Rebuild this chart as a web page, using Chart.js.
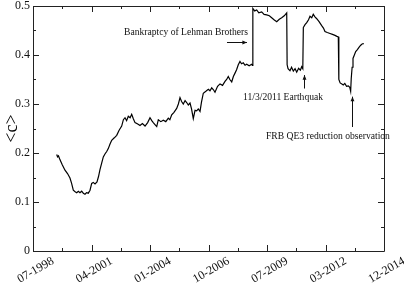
<!DOCTYPE html>
<html>
<head>
<meta charset="utf-8">
<script src="https://cdn.jsdelivr.net/npm/chart.js@4.4.1/dist/chart.umd.min.js"></script>
<style>
  html, body { margin: 0; padding: 0; background: #fff; }
  canvas { display: block; }
</style>
</head>
<body>
<canvas id="c-chart" width="404" height="284"></canvas>
<script>
// days counted from 07-1998
const days = [405, 420, 436, 462, 500, 547, 590, 632, 660, 689, 720, 747, 775, 803, 832, 860, 889, 915, 945, 975,
  1003, 1030, 1060, 1094, 1120, 1145, 1175, 1202, 1230, 1260, 1287, 1315, 1345, 1390, 1431, 1470, 1516, 1545, 1573, 1600,
  1629, 1660, 1687, 1715, 1744, 1790, 1829, 1870, 1915, 1960, 2000, 2030, 2056, 2085, 2115, 2142, 2185, 2227, 2270, 2313,
  2340, 2371, 2410, 2456, 2485, 2513, 2540, 2569, 2600, 2627, 2655, 2684, 2710, 2740, 2770, 2798, 2825, 2855, 2880, 2911,
  2955, 2997, 3025, 3055, 3085, 3111, 3155, 3197, 3240, 3282, 3310, 3338, 3365, 3397, 3425, 3453, 3480, 3509, 3538, 3565,
  3595, 3625, 3653, 3695, 3738, 3752, 3758, 3790, 3824, 3860, 3909, 3950, 3995, 4040, 4080, 4120, 4166, 4210, 4251, 4295,
  4337, 4344, 4360, 4393, 4420, 4450, 4480, 4508, 4540, 4570, 4593, 4612, 4621, 4650, 4679, 4710, 4735, 4765, 4791, 4820,
  4850, 4890, 4935, 4965, 4991, 5030, 5077, 5120, 5162, 5195, 5219, 5228, 5250, 5280, 5304, 5330, 5360, 5390, 5415, 5430,
  5440, 5455, 5470, 5490, 5516, 5545, 5575, 5602, 5630, 5658];

const meanC = [0.197, 0.192, 0.194, 0.186, 0.176, 0.165, 0.158, 0.149, 0.138, 0.124, 0.121, 0.119, 0.122, 0.119, 0.122, 0.118, 0.116, 0.119, 0.118, 0.124,
  0.138, 0.140, 0.137, 0.141, 0.152, 0.166, 0.180, 0.192, 0.198, 0.203, 0.209, 0.218, 0.226, 0.231, 0.236, 0.246, 0.255, 0.268, 0.272, 0.266,
  0.275, 0.272, 0.279, 0.270, 0.262, 0.259, 0.256, 0.260, 0.255, 0.262, 0.272, 0.266, 0.262, 0.258, 0.254, 0.268, 0.264, 0.267, 0.264, 0.271,
  0.268, 0.278, 0.283, 0.291, 0.300, 0.313, 0.305, 0.300, 0.307, 0.303, 0.298, 0.302, 0.290, 0.270, 0.287, 0.286, 0.290, 0.285, 0.304, 0.322,
  0.326, 0.330, 0.327, 0.333, 0.329, 0.324, 0.336, 0.341, 0.338, 0.346, 0.350, 0.356, 0.350, 0.345, 0.356, 0.363, 0.370, 0.380, 0.387, 0.382,
  0.384, 0.379, 0.381, 0.378, 0.381, 0.379, 0.495, 0.490, 0.492, 0.486, 0.488, 0.483, 0.482, 0.480, 0.476, 0.472, 0.468, 0.473, 0.476, 0.480,
  0.486, 0.380, 0.372, 0.368, 0.375, 0.367, 0.372, 0.365, 0.373, 0.369, 0.376, 0.372, 0.456, 0.462, 0.466, 0.472, 0.479, 0.476, 0.483, 0.478,
  0.474, 0.468, 0.460, 0.455, 0.448, 0.446, 0.444, 0.442, 0.440, 0.438, 0.437, 0.350, 0.343, 0.341, 0.339, 0.342, 0.336, 0.337, 0.334, 0.326,
  0.352, 0.375, 0.393, 0.399, 0.407, 0.411, 0.416, 0.420, 0.423, 0.423];

const xTickLabels = ['07-1998', '04-2001', '01-2004', '10-2006', '07-2009', '03-2012', '12-2014'];
const yTicks = [0, 0.1, 0.2, 0.3, 0.4, 0.5];

const notes = ['Bankraptcy of Lehman Brothers', '11/3/2011 Earthquak', 'FRB QE3 reduction observation'];

const serif = "'Liberation Serif', 'DejaVu Serif', serif";

// frame with inward ticks on all four sides, plus the annotations
const frameAndNotes = {
  id: 'frameAndNotes',
  afterDraw(chart) {
    const { ctx, chartArea: a, scales: { x, y } } = chart;
    ctx.save();
    ctx.strokeStyle = '#222';
    ctx.lineWidth = 1;
    ctx.beginPath();
    ctx.rect(Math.round(a.left) + 0.5, Math.round(a.top) + 0.5, Math.round(a.width), Math.round(a.height));
    ctx.stroke();

    const seg = (x1, y1, x2, y2) => { ctx.moveTo(x1, y1); ctx.lineTo(x2, y2); };
    ctx.beginPath();
    for (let d = 0; d <= 6000; d += 500) {
      const px = Math.round(x.getPixelForValue(d)) + 0.5;
      const len = d % 1000 === 0 ? 6 : 3;
      seg(px, a.bottom, px, a.bottom - len);
      seg(px, a.top, px, a.top + len);
    }
    for (let i = 0; i <= 10; i++) {
      const py = Math.round(y.getPixelForValue(i * 0.05)) + 0.5;
      const len = i % 2 === 0 ? 6 : 3;
      seg(a.left, py, a.left + len, py);
      seg(a.right, py, a.right - len, py);
    }
    ctx.stroke();

    // annotations
    ctx.fillStyle = '#111';
    ctx.font = '9.6px ' + serif;
    ctx.textBaseline = 'alphabetic';
    ctx.textAlign = 'right';
    ctx.fillText(notes[0], x.getPixelForValue(3675), y.getPixelForValue(0.4408));
    ctx.textAlign = 'left';
    ctx.fillText(notes[1], x.getPixelForValue(3590), y.getPixelForValue(0.309));
    ctx.fillText(notes[2], x.getPixelForValue(3983), y.getPixelForValue(0.2276));

    const arrow = (x1, y1, x2, y2) => {
      const ang = Math.atan2(y2 - y1, x2 - x1);
      ctx.beginPath();
      ctx.moveTo(x1, y1);
      ctx.lineTo(x2, y2);
      ctx.stroke();
      ctx.beginPath();
      ctx.moveTo(x2, y2);
      ctx.lineTo(x2 - 5 * Math.cos(ang - 0.4), y2 - 5 * Math.sin(ang - 0.4));
      ctx.lineTo(x2 - 5 * Math.cos(ang + 0.4), y2 - 5 * Math.sin(ang + 0.4));
      ctx.closePath();
      ctx.fill();
    };
    ctx.strokeStyle = '#111';
    const ly = Math.round(y.getPixelForValue(0.4265)) + 0.5;
    arrow(x.getPixelForValue(3316), ly, x.getPixelForValue(3658), ly);
    const ex = Math.round(x.getPixelForValue(4632)) + 0.5;
    arrow(ex, y.getPixelForValue(0.3316), ex, y.getPixelForValue(0.359));
    const fx = Math.round(x.getPixelForValue(5448)) + 0.5;
    arrow(fx, y.getPixelForValue(0.253), fx, y.getPixelForValue(0.315));
    ctx.restore();
  }
};

const points = days.map((d, i) => ({ x: d, y: meanC[i] }));

new Chart(document.getElementById('c-chart'), {
  type: 'line',
  data: {
    datasets: [{
      data: points,
      borderColor: '#000',
      borderWidth: 1.2,
      pointRadius: 0,
      tension: 0,
      fill: false
    }]
  },
  options: {
    responsive: false,
    animation: false,
    layout: { padding: { left: 0, right: 20, top: 6, bottom: 0 } },
    plugins: { legend: { display: false }, tooltip: { enabled: false } },
    scales: {
      x: {
        type: 'linear',
        min: 0,
        max: 6000,
        grid: { display: false, drawTicks: false, tickLength: 0 },
        border: { display: false },
        afterFit: (s) => { s.height = 33; s.paddingLeft = 0; s.paddingRight = 0; },
        ticks: {
          stepSize: 1000,
          autoSkip: false,
          minRotation: 30,
          maxRotation: 30,
          padding: 3,
          labelOffset: 20,
          color: '#111',
          font: { family: serif, size: 12 },
          callback: (v) => xTickLabels[Math.round(v / 1000)]
        }
      },
      y: {
        min: 0,
        max: 0.5,
        grid: { display: false, drawTicks: false, tickLength: 0 },
        border: { display: false },
        afterFit: (s) => { s.width = 33; s.paddingTop = 0; s.paddingBottom = 0; },
        afterBuildTicks: (s) => { s.ticks = yTicks.map(v => ({ value: v })); },
        ticks: {
          padding: 3,
          color: '#111',
          font: { family: serif, size: 12 },
          callback: (v) => String(v)
        },
        title: {
          display: true,
          text: '<c>',
          color: '#000',
          padding: { top: 1, bottom: 0 },
          font: { family: serif, size: 18 }
        }
      }
    }
  },
  plugins: [frameAndNotes]
});
</script>
</body>
</html>
